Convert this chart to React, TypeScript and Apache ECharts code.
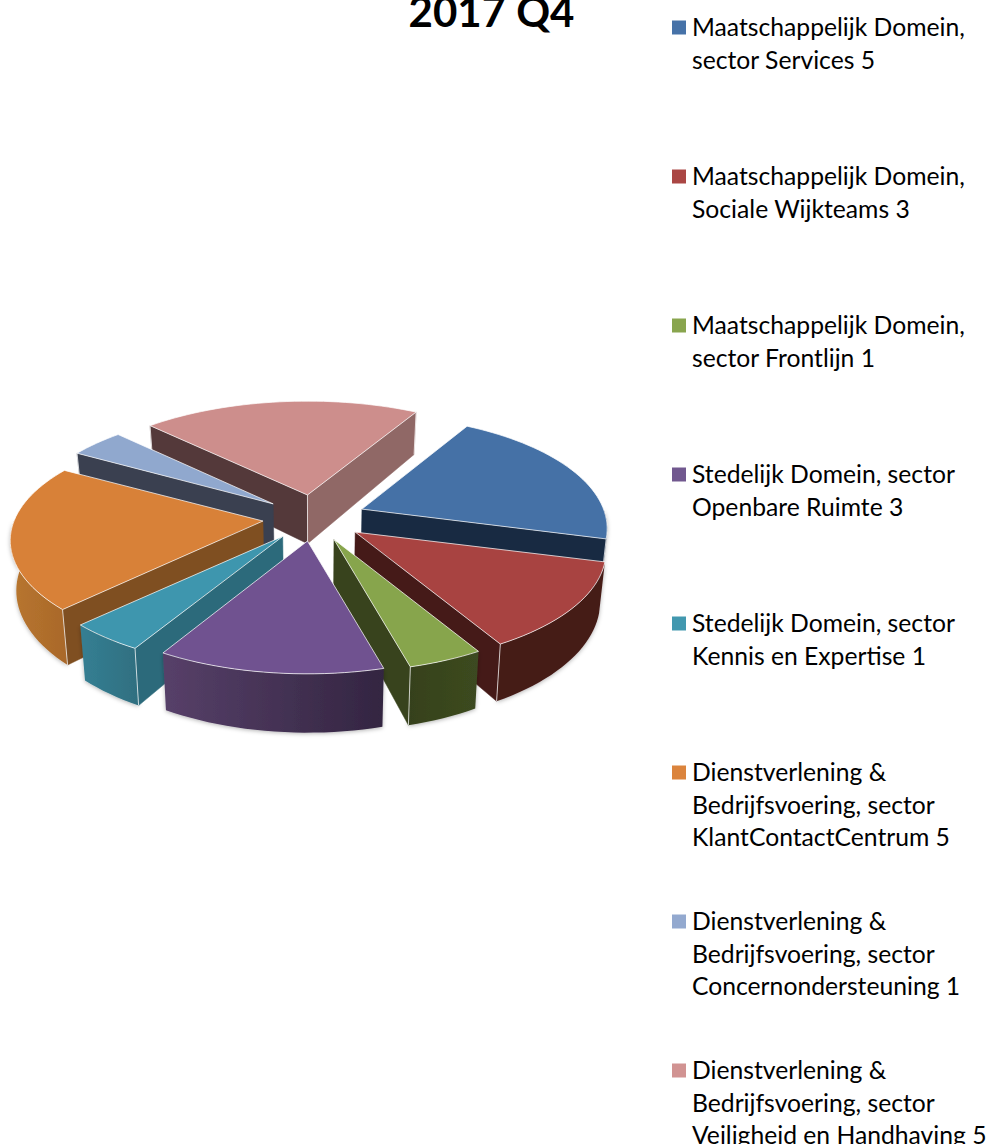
import React, { useEffect, useRef } from "react";
import * as echarts from "echarts";

const titleText = "2017 Q4";
const sectorNames = [
  "Maatschappelijk Domein,\nsector Services",
  "Maatschappelijk Domein,\nSociale Wijkteams",
  "Maatschappelijk Domein,\nsector Frontlijn",
  "Stedelijk Domein, sector\nOpenbare Ruimte",
  "Stedelijk Domein, sector\nKennis en Expertise",
  "Dienstverlening &\nBedrijfsvoering, sector\nKlantContactCentrum",
  "Dienstverlening &\nBedrijfsvoering, sector\nConcernondersteuning",
  "Dienstverlening &\nBedrijfsvoering, sector\nVeiligheid en Handhaving",
];
const sectorValues = [5, 3, 1, 3, 1, 5, 1, 5];
const topColors = ["#4571a6", "#a84341", "#87a54c", "#705290", "#3e96ae", "#d88138", "#90a8ce", "#cd8e8c"];
const legendColors = ["#4672a8", "#aa4644", "#89a54e", "#71588f", "#4298af", "#db843d", "#93a9cf", "#d19392"];
const rimColors = [
  ["#182a42", "#182a42"],
  ["#451a18", "#451a18"],
  ["#3c4a20", "#36411c"],
  ["#574069", "#332541"],
  ["#357f93", "#2f6f80"],
  ["#b8762f", "#a9682a"],
  ["#3a4050", "#3a4050"],
  ["#906866", "#906866"],
];
const fromCutColors = ["#182a42", "#451a18", "#38431d", "#3a2a4a", "#2c6a7b", "#7f4f21", "#3a4050", "#54393a"];
const toCutColors = ["#182a42", "#451a18", "#38431d", "#3a2a4a", "#2c6a7b", "#7f4f21", "#3a4050", "#906866"];
// Horizontal size of each slice relative to the nominal radius.
const sliceWidthScale = [0.982, 1.004, 1.0, 1.0, 1.022, 1.012, 1.0, 1.015];

// Pie projection: tilted disc with mild perspective, exploded slices.
const START_ANGLE = 30;
const CENTER_X = 314.2;
const CENTER_Y = 518;
const EXPLODE_X = 51.7;
const EXPLODE_Y = 23.2;
const RADIUS_X = 246;
const RADIUS_Y = 110;
const PERSPECTIVE = 0.172;
const WALL = 48.7;
const BASE_SHRINK = 0.98;

const rad = (deg: number) => (deg * Math.PI) / 180;
const total = sectorValues.reduce((a, b) => a + b, 0);

type Slice = { from: number; to: number; apexX: number; apexY: number; widthScale: number };
const slices: Slice[] = [];
{
  let angle = START_ANGLE;
  sectorValues.forEach((value, i) => {
    const sweep = (value / total) * 360;
    const mid = angle + sweep / 2;
    slices.push({
      from: angle,
      to: angle + sweep,
      apexX: CENTER_X + EXPLODE_X * Math.sin(rad(mid)),
      apexY: CENTER_Y - EXPLODE_Y * Math.cos(rad(mid)),
      widthScale: sliceWidthScale[i],
    });
    angle += sweep;
  });
}
const paintOrder = slices.map((s, i) => [s.apexY, i]).sort((a, b) => a[0] - b[0]).map((p) => p[1]);

function topPoint(s: Slice, deg: number, r = 1): number[] {
  const u = r * Math.sin(rad(deg));
  const v = r * Math.cos(rad(deg));
  const w = 1 + PERSPECTIVE * v;
  return [s.apexX + (RADIUS_X * s.widthScale * u) / w, s.apexY - (RADIUS_Y * v) / w];
}
function basePoint(s: Slice, deg: number, r = 1): number[] {
  const [x, y] = topPoint(s, deg, r);
  const v = r * Math.cos(rad(deg));
  return [CENTER_X + (x - CENTER_X) * BASE_SHRINK, y + WALL / (1 + PERSPECTIVE * v)];
}
function arcAngles(from: number, to: number): number[] {
  const out: number[] = [];
  const n = Math.max(2, Math.ceil((to - from) / 2));
  for (let i = 0; i <= n; i++) out.push(from + ((to - from) * i) / n);
  return out;
}
const facesViewer = (normalDeg: number) => Math.cos(rad(normalDeg)) < 0;

const EDGE = "rgba(255,255,255,0.72)";

function edgeLine(a: number[], b: number[]) {
  return { type: "line", shape: { x1: a[0], y1: a[1], x2: b[0], y2: b[1] }, style: { stroke: EDGE, lineWidth: 1 }, silent: true };
}

function sliceGraphics(i: number) {
  const s = slices[i];
  const children: any[] = [];
  const apexTop = topPoint(s, s.from, 0);
  const apexBase = basePoint(s, s.from, 0);

  // curved outer wall, only where it turns towards the viewer
  const wallFrom = Math.max(s.from, 90);
  const wallTo = Math.min(s.to, 270);
  if (wallTo > wallFrom) {
    const angles = arcAngles(wallFrom, wallTo);
    const points = [...angles.map((a) => topPoint(s, a)), ...angles.slice().reverse().map((a) => basePoint(s, a))];
    const leftSide = wallTo > 180;
    children.push({
      type: "polygon",
      shape: { points },
      style: {
        fill: new echarts.graphic.LinearGradient(0, 0, 1, 0, [
          { offset: 0, color: rimColors[i][leftSide ? 0 : 1] },
          { offset: 1, color: rimColors[i][leftSide ? 1 : 0] },
        ]),
        shadowBlur: 4,
        shadowColor: "rgba(0,0,0,0.3)",
        shadowOffsetY: 1,
      },
      silent: true,
    });
  }
  // straight cut faces
  const cuts: [number, number, string][] = [
    [s.from, s.from - 90, fromCutColors[i]],
    [s.to, s.to + 90, toCutColors[i]],
  ];
  for (const [deg, normal, color] of cuts) {
    if (!facesViewer(normal)) continue;
    children.push({
      type: "polygon",
      shape: { points: [apexTop, topPoint(s, deg), basePoint(s, deg), apexBase] },
      style: { fill: color, stroke: color, lineWidth: 0.5 },
      silent: true,
    });
    children.push(edgeLine(topPoint(s, deg), basePoint(s, deg)));
  }
  if (facesViewer(s.from - 90) && facesViewer(s.to + 90)) children.push(edgeLine(apexTop, apexBase));

  // flat top
  const rim = arcAngles(s.from, s.to).map((a) => topPoint(s, a));
  children.push({
    type: "polygon",
    shape: { points: [apexTop, ...rim] },
    style: { fill: topColors[i], stroke: EDGE, lineWidth: 1 },
    silent: true,
  });
  return { type: "group", children };
}

// Legend entries: marker next to the first line of each wrapped label.
const LEGEND_X = 672;
const LEGEND_FIRST = 27.5;
const LEGEND_STEP = 149;
const LEGEND_LINE = 32.6;

function legendGraphics() {
  const out: any[] = [];
  sectorNames.forEach((name, i) => {
    const y = LEGEND_FIRST + LEGEND_STEP * i;
    out.push({ type: "rect", left: LEGEND_X, top: y - 7, shape: { width: 14, height: 14 }, style: { fill: legendColors[i] } });
    out.push({
      type: "text",
      x: LEGEND_X + 20,
      y: y - LEGEND_LINE / 2 - 1,
      style: {
        text: `${name} ${sectorValues[i]}`,
        font: "24.7px Lato, sans-serif",
        lineHeight: LEGEND_LINE,
        fill: "#000000",
        textVerticalAlign: "top",
      },
    });
  });
  return out;
}

export default function App() {
  const ref = useRef<HTMLDivElement>(null);
  useEffect(() => {
    if (!ref.current) return;
    const chart = echarts.init(ref.current, undefined, { renderer: "svg" });
    chart.setOption({
      animation: false,
      backgroundColor: "#ffffff",
      title: {
        text: titleText,
        left: 486.5,
        top: -15,
        textAlign: "center",
        textStyle: { fontFamily: "Lato, sans-serif", fontWeight: "bold", fontSize: 42, color: "#000000" },
      },
      graphic: legendGraphics(),
      series: sectorNames.map((name, i) => ({
        type: "custom",
        name,
        coordinateSystem: "none",
        z: 2 + paintOrder.indexOf(i),
        data: [[sectorValues[i]]],
        silent: true,
        renderItem: () => sliceGraphics(i),
      })),
    });
    return () => chart.dispose();
  }, []);
  return <div ref={ref} style={{ position: "absolute", left: 0, top: 0, width: 988, height: 1144 }} />;
}
